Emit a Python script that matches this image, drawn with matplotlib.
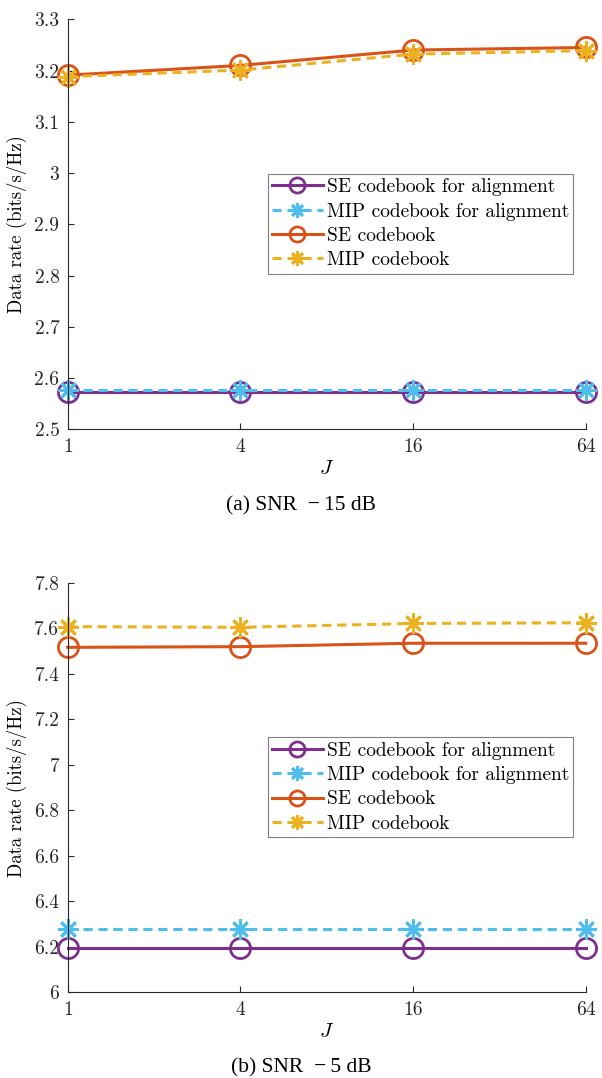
import numpy as np
import matplotlib.pyplot as plt

# J 值 (对数坐标)
J = [1, 4, 16, 64]

# (a) SNR -15 dB
se_align_a = [2.572, 2.572, 2.572, 2.572]
mip_align_a = [2.577, 2.577, 2.577, 2.577]
se_a = [3.191, 3.210, 3.240, 3.245]
mip_a = [3.188, 3.201, 3.232, 3.239]

# (b) SNR -5 dB
se_align_b = [6.196, 6.196, 6.196, 6.196]
mip_align_b = [6.277, 6.277, 6.277, 6.277]
se_b = [7.517, 7.520, 7.535, 7.535]
mip_b = [7.608, 7.605, 7.622, 7.625]

labels = ['SE codebook for alignment', 'MIP codebook for alignment',
          'SE codebook', 'MIP codebook']
colors = ['#7E2F8E', '#4DBEEE', '#D95319', '#EDB120']
captions = ['(a) SNR  \u2212\u200915 dB', '(b) SNR  \u2212\u20095 dB']

plt.rcParams['font.family'] = ['cmr10', 'DejaVu Serif']
plt.rcParams['mathtext.fontset'] = 'cm'
plt.rcParams['axes.unicode_minus'] = False
plt.rcParams['axes.formatter.use_mathtext'] = True

fig = plt.figure(figsize=(6.02, 10.78), dpi=100)
ax_a = fig.add_axes([0.1125, 0.6017, 0.8605, 0.3804])
ax_b = fig.add_axes([0.1125, 0.0795, 0.8605, 0.3797])

asterisk = (8, 2, 0)

def draw(ax, series, ylim, yticks, caption, cap_y):
    styles = [('-', 'o'), ('--', asterisk), ('-', 'o'), ('--', asterisk)]
    for vals, lab, col, (ls, mk) in zip(series, labels, colors, styles):
        kw = dict(color=col, lw=2.2, label=lab, marker=mk, ms=14.5,
                  mew=2.0, mfc='none', mec=col, clip_on=False)
        if ls == '--':
            kw['dashes'] = (3.0, 1.9)
        ax.plot(J, vals, ls, **kw)
    ax.set_xscale('log')
    ax.set_xlim(1, 64)
    ax.set_xticks(J)
    ax.set_xticklabels([str(j) for j in J])
    ax.minorticks_off()
    ax.set_ylim(*ylim)
    ax.set_yticks(yticks)
    ax.set_yticklabels(['%g' % t for t in yticks])
    for s in ['top', 'right']:
        ax.spines[s].set_visible(False)
    for s in ['left', 'bottom']:
        ax.spines[s].set_color('#262626')
        ax.spines[s].set_linewidth(0.8)
    ax.tick_params(direction='in', length=4, width=0.8, colors='#262626',
                   labelsize=14, pad=6)
    ax.set_xlabel('$J$', fontsize=15, labelpad=3)
    ax.set_ylabel('Data rate (bits/s/Hz)', fontsize=13.5, labelpad=5)
    leg = ax.legend(loc='upper right', bbox_to_anchor=(0.976, 0.623),
                    fontsize=14, fancybox=False, framealpha=1,
                    edgecolor='#808080', handlelength=2.6, handletextpad=0.2,
                    labelspacing=0.33, borderpad=0.22, borderaxespad=0,
                    markerscale=0.75)
    leg.get_frame().set_linewidth(0.8)
    fig.text(0.5, cap_y, caption, ha='center', va='center', fontsize=15.5,
             family=['Liberation Serif', 'DejaVu Serif'])

draw(ax_a, [se_align_a, mip_align_a, se_a, mip_a], (2.5, 3.3),
     [2.5, 2.6, 2.7, 2.8, 2.9, 3.0, 3.1, 3.2, 3.3], captions[0], 1 - 506 / 1078)
draw(ax_b, [se_align_b, mip_align_b, se_b, mip_b], (6, 7.8),
     [6, 6.2, 6.4, 6.6, 6.8, 7, 7.2, 7.4, 7.6, 7.8], captions[1], 1 - 1068 / 1078)

plt.savefig('out.png', dpi=100)
